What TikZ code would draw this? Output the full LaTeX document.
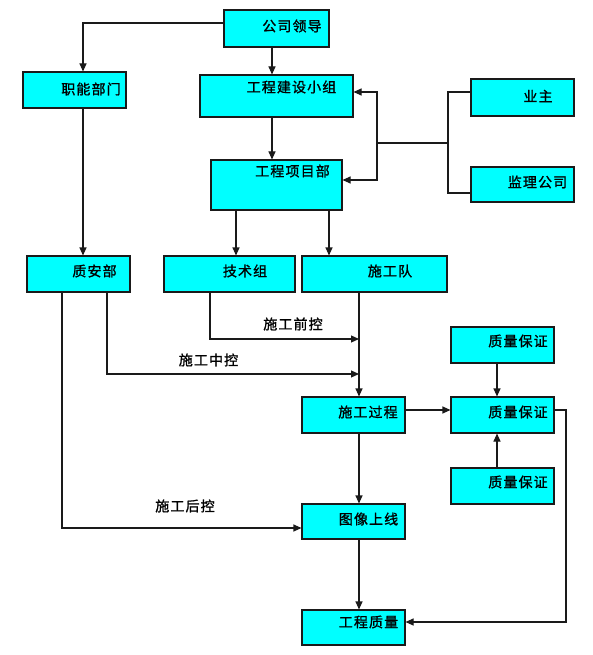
\documentclass[tikz,border=0pt]{standalone}
\usepackage{fontspec}
\newfontfamily\cjk[LetterSpace=8,FakeBold=1.2]{Noto Sans CJK SC}
\usetikzlibrary{arrows.meta}
\definecolor{boxfill}{HTML}{00FFFF}
\definecolor{edge}{HTML}{1A1A1A}
\tikzset{
  box/.style={draw=edge, fill=boxfill, line width=1.1pt, inner sep=0pt, rectangle},
  txt/.style={font=\cjk\fontsize{14}{16}\selectfont, inner sep=0pt, text=black},
  lbl/.style={font=\cjk\fontsize{14}{16}\selectfont, inner sep=0pt, text=black},
  arr/.style={draw=edge, line width=1.1pt, -{Triangle[length=8pt,width=7pt]}},
  ln/.style={draw=edge, line width=1.1pt}
}
\begin{document}
\begin{tikzpicture}[x=1pt,y=-1pt]
\useasboundingbox (0,0) rectangle (592,655);
% boxes
\node[box, minimum width=105pt, minimum height=37pt] (lead) at (276.5,28.5) {};
\node[box, minimum width=103pt, minimum height=36pt] (func) at (74.5,90) {};
\node[box, minimum width=153pt, minimum height=42pt] (grp) at (276.5,96) {};
\node[box, minimum width=131pt, minimum height=50pt] (proj) at (276.5,185) {};
\node[box, minimum width=103pt, minimum height=37pt] (owner) at (522.5,97.5) {};
\node[box, minimum width=103pt, minimum height=35pt] (sup) at (522.5,184.5) {};
\node[box, minimum width=103pt, minimum height=36pt] (qs) at (78.5,274) {};
\node[box, minimum width=131pt, minimum height=36pt] (tech) at (229.5,274) {};
\node[box, minimum width=145pt, minimum height=36pt] (team) at (374.5,274) {};
\node[box, minimum width=103pt, minimum height=36pt] (proc) at (353.5,415) {};
\node[box, minimum width=103pt, minimum height=36pt] (qa1) at (502.5,345) {};
\node[box, minimum width=103pt, minimum height=36pt] (qa2) at (502.5,415) {};
\node[box, minimum width=103pt, minimum height=36pt] (qa3) at (502.5,486) {};
\node[box, minimum width=103pt, minimum height=35pt] (img) at (353.5,521.5) {};
\node[box, minimum width=103pt, minimum height=35pt] (qual) at (353.5,627.5) {};
% texts
\node[txt] (tlead) at (292,26) {公司领导};
\node[txt] (tfunc) at (91,89) {职能部门};
\node[txt] (tgrp) at (291.5,87) {工程建设小组};
\node[txt] (tproj) at (292.5,171) {工程项目部};
\node[txt] (towner) at (538,96) {业主};
\node[txt] (tsup) at (537.5,182) {监理公司};
\node[txt] (tqs) at (94.5,271) {质安部};
\node[txt] (ttech) at (245,271) {技术组};
\node[txt] (tteam) at (390,271) {施工队};
\node[txt] (tproc) at (368,412) {施工过程};
\node[txt] (tqa1) at (518,341) {质量保证};
\node[txt] (tqa2) at (518,412) {质量保证};
\node[txt] (tqa3) at (518,482) {质量保证};
\node[txt] (timg) at (368.5,519) {图像上线};
\node[txt] (tqual) at (368.5,622) {工程质量};
% labels
\node[lbl] (l1) at (293,324) {施工前控};
\node[lbl] (l2) at (208.5,360) {施工中控};
\node[lbl] (l3) at (185,506) {施工后控};
% junction coordinates
\coordinate (bj) at (448,143);
\coordinate (bk) at (377,143);
\coordinate (m1) at (359,339);
\coordinate (m2) at (359,374);
\coordinate (rc) at (566,622);
% connectors
\draw[arr] ([yshift=5.5pt]lead.west) -| ([xshift=8.5pt]func.north);
\draw[arr] ([xshift=-4.5pt]lead.south) -- ([xshift=-4.5pt]grp.north);
\draw[arr] ([xshift=-4.5pt]grp.south) -- ([xshift=-4.5pt]proj.north);
\draw[ln] ([yshift=5.5pt]owner.west) -| (bj) |- ([yshift=-8.5pt]sup.west);
\draw[ln] (bj) -- (bk);
\draw[arr] (bk) |- ([yshift=4pt]grp.east);
\draw[arr] (bk) |- ([yshift=5pt]proj.east);
\draw[arr] ([xshift=-40.5pt]proj.south) -- ([xshift=-40.5pt]proj.south |- tech.north);
\draw[arr] ([xshift=52.5pt]proj.south) -- ([xshift=52.5pt]proj.south |- team.north);
\draw[arr] ([xshift=8.5pt]func.south) -- ([xshift=8.5pt]func.south |- qs.north);
\draw[arr] ([xshift=5.5pt]proc.north |- team.south) -- ([xshift=5.5pt]proc.north);
\draw[arr] ([xshift=-19.5pt]tech.south) |- (m1);
\draw[arr] ([xshift=28.5pt]qs.south) |- (m2);
\draw[arr] ([xshift=-16.5pt]qs.south) |- ([yshift=-6.5pt]img.west);
\draw[arr] ([yshift=5pt]proc.east) -- ([yshift=5pt]qa2.west);
\draw[arr] ([xshift=-5.5pt]qa1.south) -- ([xshift=-5.5pt]qa2.north);
\draw[arr] ([xshift=-5.5pt]qa3.north) -- ([xshift=-5.5pt]qa2.south);
\draw[arr] ([xshift=5.5pt]proc.south) -- ([xshift=5.5pt]img.north);
\draw[arr] ([xshift=5.5pt]img.south) -- ([xshift=5.5pt]qual.north);
\draw[arr] ([yshift=5pt]qa2.east) -| (rc) -- (qual.east |- rc);
\end{tikzpicture}
\end{document}
